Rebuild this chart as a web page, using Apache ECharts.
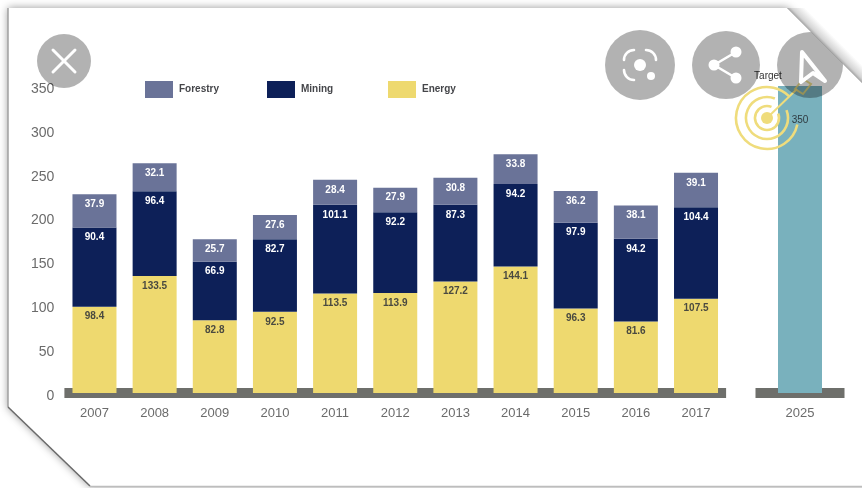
<!DOCTYPE html>
<html>
<head>
<meta charset="utf-8">
<style>html,body{margin:0;padding:0;background:#fff}#chart{width:862px;height:488px}</style>
<script src="https://cdn.jsdelivr.net/npm/echarts@6/dist/echarts.min.js"></script>
</head>
<body>
<div id="chart"></div>
<script>
const years = ['2007','2008','2009','2010','2011','2012','2013','2014','2015','2016','2017'];
const energy = [98.4,133.5,82.8,92.5,113.5,113.9,127.2,144.1,96.3,81.6,107.5];
const mining = [90.4,96.4,66.9,82.7,101.1,92.2,87.3,94.2,97.9,94.2,104.4];
const forestry = [37.9,32.1,25.7,27.6,28.4,27.9,30.8,33.8,36.2,38.1,39.1];
const targetYear = ['2025'];
const target = [350];

const FONT = '"Liberation Sans", Arial, sans-serif';
const COLORS = {forestry:'#6a7398', mining:'#0d2058', energy:'#eed96f', target:'#79b1bd', base:'#6e6f6b', ring:'#efdc7c'};
const GREY_DISC = 'rgba(0,0,0,0.3)';

function stackSeries(name, data, color, labelColor) {
  return {
    name, type:'bar', stack:'total', data, barWidth:44, xAxisIndex:0, yAxisIndex:0,
    itemStyle:{color},
    label:{show:true, position:'insideTop', distance:5, color:labelColor,
      fontFamily:FONT, fontSize:10, fontWeight:'bold'}
  };
}
function legendEntry(name, left) {
  return {
    data:[name], left, top:81, padding:0, itemWidth:28, itemHeight:17, itemGap:0,
    icon:'rect', selectedMode:false,
    textStyle:{color:'#45464a', fontFamily:FONT, fontSize:10, fontWeight:'bold', padding:[0,0,0,1]}
  };
}
function categoryAxis(data, gridIndex) {
  return {
    type:'category', data, gridIndex,
    axisLine:{show:true, lineStyle:{color:COLORS.base, width:10, cap:'butt'}},
    axisTick:{show:false},
    axisLabel:{color:'#6b6b6b', fontFamily:FONT, fontSize:13, margin:14}
  };
}
function disc(cx, cy, r) {
  return {type:'circle', z:50, silent:true, shape:{cx, cy, r}, style:{fill:GREY_DISC}};
}
function whiteLine(x1, y1, x2, y2, lineWidth) {
  return {type:'line', z:51, silent:true, shape:{x1,y1,x2,y2}, style:{stroke:'#fff', lineWidth, lineCap:'round'}};
}
function whiteDot(cx, cy, r) {
  return {type:'circle', z:51, silent:true, shape:{cx,cy,r}, style:{fill:'#fff'}};
}
function whiteArc(cx, cy, r, a0, a1) {
  return {type:'arc', z:51, silent:true,
    shape:{cx, cy, r, startAngle:a0*Math.PI/180, endAngle:a1*Math.PI/180, clockwise:true},
    style:{stroke:'#fff', fill:null, lineWidth:2.6, lineCap:'round'}};
}
function ring(r, a0, a1) {
  return {type:'arc', z:40, silent:true,
    shape:{cx:767, cy:118, r, startAngle:a0*Math.PI/180, endAngle:a1*Math.PI/180, clockwise:true},
    style:{stroke:COLORS.ring, fill:null, lineWidth:2.6}};
}
function edge(x1, y1, x2, y2, stroke, lineWidth) {
  return {type:'line', z:-1, silent:true, shape:{x1,y1,x2,y2}, style:{stroke, lineWidth}};
}

const graphicElements = [
  // sheet of paper with two cut corners
  {type:'polygon', z:-2, silent:true,
    shape:{points:[[8,8],[787,8],[875,96],[875,486],[90,486],[8,407]]},
    style:{fill:'#fff', shadowBlur:8, shadowColor:'rgba(0,0,0,0.42)'}},
  edge(8,8,8,407,'#a0a0a0',1.5),
  edge(8,407,90,486,'#6a6a6a',1.5),
  edge(90,486.5,862,486.5,'#bdbdbd',1.5),

  // target emblem
  ring(31,12,315), ring(21,-22,292), ring(12,-22,292),
  {type:'circle', z:40, silent:true, shape:{cx:767,cy:118,r:6}, style:{fill:COLORS.ring}},
  {type:'line', z:40, silent:true, shape:{x1:767,y1:118,x2:797,y2:89}, style:{stroke:COLORS.ring, lineWidth:2}},
  {type:'polygon', z:40, silent:true, shape:{points:[[795,89],[803,79],[811,84],[803,94]]},
    style:{fill:null, stroke:'rgba(236,214,110,0.8)', lineWidth:2}},
  {type:'text', z:41, silent:true, x:768, y:76,
    style:{text:'Target', fill:'#333', font:'10px '+FONT, align:'center', verticalAlign:'middle'}},

  // viewer buttons laid over the page
  disc(64,61,27),
  whiteLine(53,50,75,72,3), whiteLine(75,50,53,72,3),

  disc(640,65,35),
  whiteArc(634,60,10,180,270), whiteArc(646,60,10,270,360),
  whiteArc(634,70,10,90,180),
  whiteDot(640,65,6), whiteDot(651,76,4),

  disc(726,65,34),
  whiteLine(714,65,736,52,2.6), whiteLine(714,65,736,78,2.6),
  whiteDot(714,65,5.5), whiteDot(736,52,5.5), whiteDot(736,78,5.5),

  disc(810,65,33),
  {type:'polygon', z:51, silent:true, shape:{points:[[802,52],[825,81],[813,73],[801,82]]},
    style:{fill:null, stroke:'#fff', lineWidth:4, lineJoin:'round'}},

  // blank corner above the buttons, shaded along its fold
  {type:'polygon', z:60, silent:true,
    shape:{points:[[787,8],[875,96],[875,8]]},
    style:{fill:{type:'linear', x:824, y:45, x2:833, y2:36, global:true,
      colorStops:[{offset:0,color:'#a4a4a4'},{offset:0.25,color:'#d4d4d4'},{offset:1,color:'#ffffff'}]}}}
];

const option = {
  animation:false,
  backgroundColor:'#fff',
  legend:[legendEntry('Forestry',145), legendEntry('Mining',267), legendEntry('Energy',388)],
  grid:[
    {left:64.4, width:661.7, top:86, height:307},
    {left:755.5, width:89, top:86, height:307}
  ],
  xAxis:[categoryAxis(years,0), categoryAxis(targetYear,1)],
  yAxis:[
    {type:'value', gridIndex:0, min:0, max:350, interval:50, splitLine:{show:false},
      axisLine:{show:false}, axisTick:{show:false},
      axisLabel:{color:'#6b6b6b', fontFamily:FONT, fontSize:14, margin:10, verticalAlign:'top', lineHeight:14, padding:[-4,0,0,0]}},
    {type:'value', gridIndex:1, min:0, max:350, show:false, splitLine:{show:false}}
  ],
  series:[
    stackSeries('Energy', energy, COLORS.energy, '#4a4a40'),
    stackSeries('Mining', mining, COLORS.mining, '#ffffff'),
    stackSeries('Forestry', forestry, COLORS.forestry, '#ffffff'),
    {name:'Target', type:'bar', data:target, barWidth:44, xAxisIndex:1, yAxisIndex:1,
      itemStyle:{color:COLORS.target},
      label:{show:true, position:'insideTop', distance:29, color:'#2e3a40', fontFamily:FONT, fontSize:10}}
  ],
  graphic:{elements:graphicElements}
};

echarts.init(document.getElementById('chart'), null, {renderer:'canvas'}).setOption(option);
</script>
</body>
</html>
